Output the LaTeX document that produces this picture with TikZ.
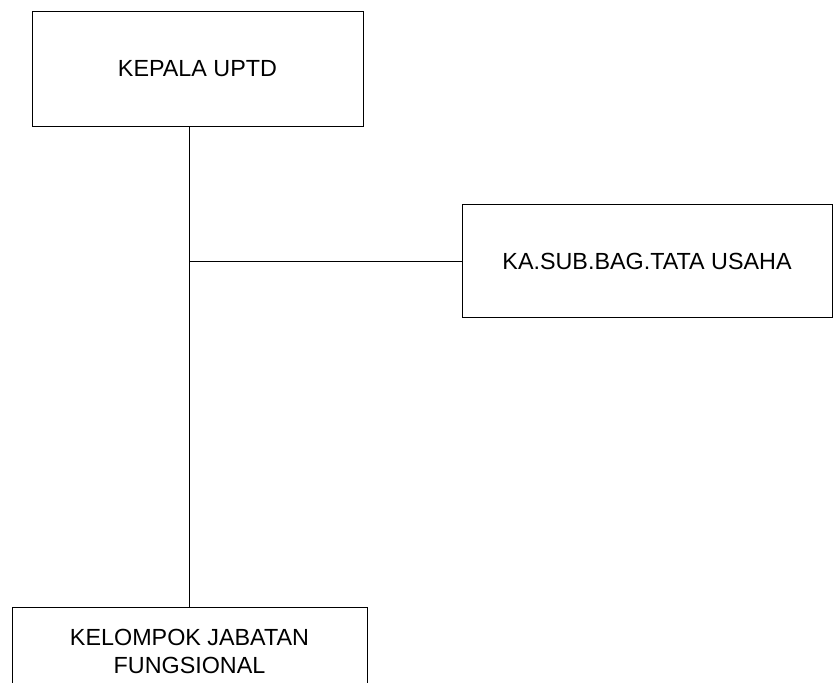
\documentclass[tikz,border=0pt]{standalone}
\usepackage{fontspec}
\setmainfont{Liberation Sans}
\usetikzlibrary{positioning}

\begin{document}
\begin{tikzpicture}[x=0.75pt,y=-0.75pt,
  jabatan/.style={draw,line width=0.75pt,align=center,inner sep=0pt,
    font=\fontsize{17.5}{21}\selectfont}]
\useasboundingbox (0,0) rectangle (835,682);
\node[jabatan,minimum width=331*0.75pt,minimum height=115*0.75pt] (kepala) at (197.5,68.5) {KEPALA UPTD};
\node[jabatan,minimum width=370*0.75pt,minimum height=113*0.75pt] (tu) at (647,261) {KA.SUB.BAG.TATA USAHA};
\node[jabatan,minimum width=355*0.75pt,minimum height=88*0.75pt] (kel) at (189.5,651) {KELOMPOK JABATAN\\FUNGSIONAL};
\draw[line width=0.75pt] (kel.north) -- (kel.north |- kepala.south);
\draw[line width=0.75pt] (kel.north |- tu.west) -- (tu.west);
\end{tikzpicture}
\end{document}
